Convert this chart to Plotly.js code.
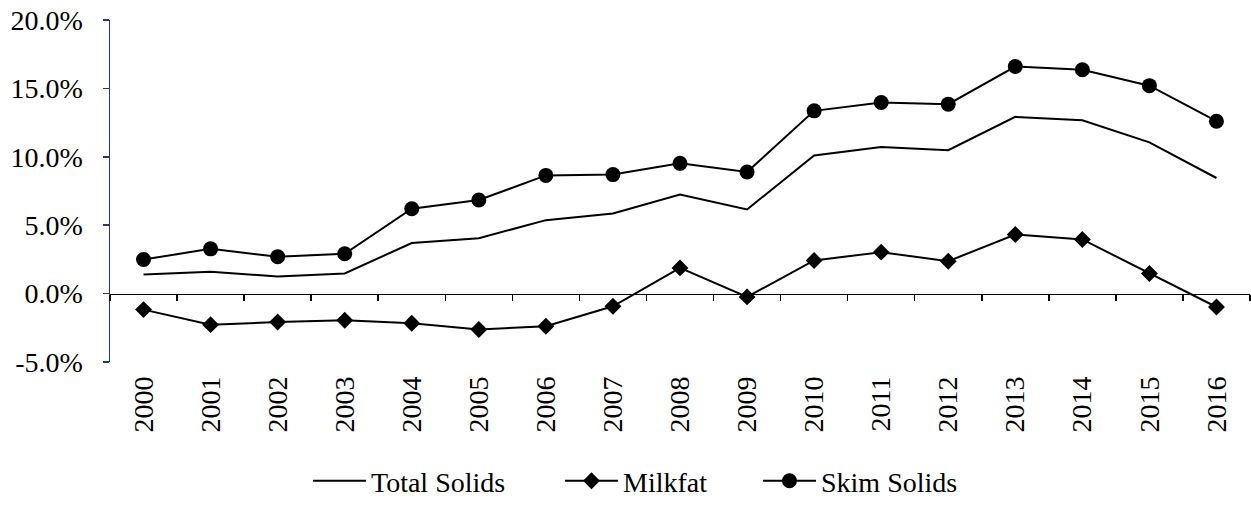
<!DOCTYPE html>
<html>
<head>
<meta charset="utf-8">
<script src="https://cdn.plot.ly/plotly-3.0.1.min.js"></script>
<style>
  html, body { margin: 0; padding: 0; background: #fff; }
  #chart { width: 1251px; height: 506px; }
</style>
</head>
<body>
<div id="chart"></div>
<script>
// Year-over-year change, percent
const years = ['2000', '2001', '2002', '2003', '2004', '2005', '2006', '2007', '2008',
               '2009', '2010', '2011', '2012', '2013', '2014', '2015', '2016'];
const totalSolids = [1.4, 1.6, 1.25, 1.47, 3.7, 4.05, 5.37, 5.86, 7.25,
                     6.15, 10.1, 10.72, 10.48, 12.92, 12.67, 11.06, 8.45];
const milkfat = [-1.17, -2.27, -2.08, -1.95, -2.17, -2.62, -2.39, -0.93, 1.88,
                 -0.24, 2.42, 3.03, 2.37, 4.32, 3.96, 1.47, -0.98];
const skimSolids = [2.49, 3.27, 2.69, 2.91, 6.2, 6.84, 8.64, 8.7, 9.52,
                    8.89, 13.36, 13.97, 13.85, 16.6, 16.36, 15.2, 12.6];
const yTicks = [-5, 0, 5, 10, 15, 20];
const yTickText = ['-5.0%', '0.0%', '5.0%', '10.0%', '15.0%', '20.0%'];
const yRange = [-5, 20];

const FONT = 'Liberation Serif';
const NAVY = '#1f3a7a';

const base = { x: years, type: 'scatter', line: { color: '#000', width: 2 }, hoverinfo: 'skip' };

const traces = [
    Object.assign({}, base, { name: 'Total Solids', y: totalSolids, mode: 'lines', legend: 'legend' }),
    Object.assign({}, base, {
        name: 'Milkfat', y: milkfat, mode: 'lines+markers', legend: 'legend2',
        marker: { symbol: 'diamond', size: 13, color: '#000' }
    }),
    Object.assign({}, base, {
        name: 'Skim Solids', y: skimSolids, mode: 'lines+markers', legend: 'legend3',
        marker: { symbol: 'circle', size: 15, color: '#000' }
    }),
    // helper so the tick axis on y = 0 gets drawn
    {
        x: years.map((_, i) => i), y: years.map(() => null), xaxis: 'x2',
        type: 'scatter', mode: 'lines', showlegend: false, hoverinfo: 'skip'
    }
];

// the category axis line sits on y = 0
const zeroPos = (0 - yRange[0]) / (yRange[1] - yRange[0]);

function legendAt(xpx) {
    return {
        orientation: 'h',
        x: xpx / 1251, xref: 'container', xanchor: 'left',
        y: 1 - 481 / 506, yref: 'container', yanchor: 'middle',
        itemwidth: 53,
        font: { family: FONT, size: 28, color: '#000' },
        bgcolor: 'rgba(0,0,0,0)'
    };
}

const layout = {
    width: 1251,
    height: 506,
    margin: { l: 110, r: 1, t: 20, b: 144 },
    paper_bgcolor: '#fff',
    plot_bgcolor: '#fff',
    font: { family: FONT, size: 28, color: '#000' },
    showlegend: true,
    legend: legendAt(308),
    legend2: legendAt(560),
    legend3: legendAt(758),
    xaxis: {
        type: 'category',
        range: [-0.5, years.length - 0.5],
        showline: false,
        showgrid: false,
        zeroline: false,
        ticks: '',
        tickangle: -90,
        ticklabelstandoff: 8,
        automargin: false,
        tickfont: { family: FONT, size: 28, color: '#000' }
    },
    xaxis2: {
        type: 'linear',
        overlaying: 'x',
        anchor: 'free',
        position: zeroPos,
        range: [-0.5, years.length - 0.5],
        tick0: -0.5,
        dtick: 1,
        ticks: 'outside',
        ticklen: 6,
        tickwidth: 1.5,
        tickcolor: '#000',
        showline: true,
        linecolor: '#000',
        linewidth: 1.5,
        showticklabels: false,
        showgrid: false,
        zeroline: false,
        automargin: false
    },
    yaxis: {
        range: yRange,
        tickmode: 'array',
        tickvals: yTicks,
        ticktext: yTickText,
        showline: true,
        linecolor: NAVY,
        linewidth: 1.5,
        ticks: 'outside',
        ticklen: 6,
        tickwidth: 1.5,
        tickcolor: NAVY,
        ticklabelstandoff: 14,
        showgrid: false,
        zeroline: false,
        automargin: false,
        tickfont: { family: FONT, size: 28, color: '#000' }
    }
};

Plotly.newPlot('chart', traces, layout, { displayModeBar: false, staticPlot: true });
</script>
</body>
</html>
